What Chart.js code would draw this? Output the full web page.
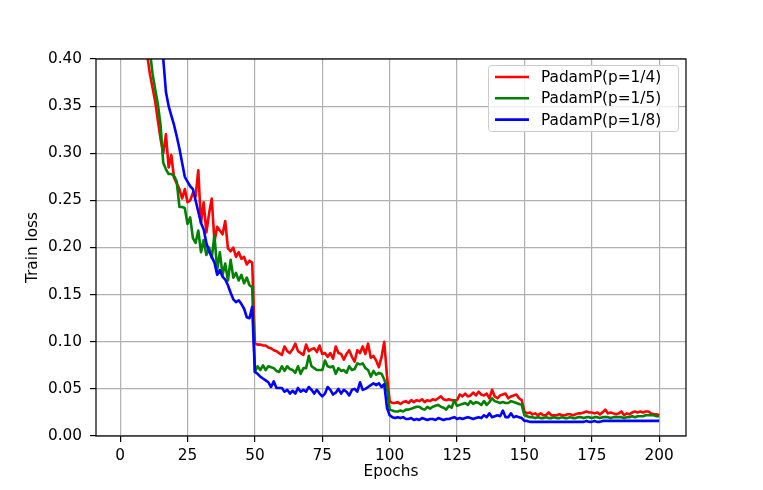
<!DOCTYPE html>
<html>
<head>
<meta charset="utf-8">
<script src="https://cdn.jsdelivr.net/npm/chart.js@4.4.1/dist/chart.umd.min.js"></script>
<style>
    html, body { margin: 0; padding: 0; background: #fff; }
</style>
</head>
<body>
<canvas id="grafico_loss" width="763" height="490"></canvas>
<script>
// valores (train loss por epoca, 200 epocas)
const rotulos = ["PadamP(p=1/4)", "PadamP(p=1/5)", "PadamP(p=1/8)"];
const cores = ["#ff0000", "#008000", "#0000ff"];

const ticks_x = [0, 25, 50, 75, 100, 125, 150, 175, 200];
const ticks_y = [0, 0.05, 0.1, 0.15, 0.2, 0.25, 0.3, 0.35, 0.4];

const epocas = [];
for (let e = 1; e <= 200; e++) epocas.push(e);

const loss_p4 = [
    1.00, 0.85, 0.75, 0.67, 0.60, 0.55, 0.51, 0.47, 0.44, 0.405,
    0.385, 0.37, 0.355, 0.335, 0.315, 0.30, 0.32, 0.285, 0.298, 0.274,
    0.268, 0.262, 0.252, 0.262, 0.248, 0.25, 0.258, 0.254, 0.282, 0.226,
    0.248, 0.216, 0.236, 0.252, 0.206, 0.222, 0.218, 0.214, 0.228, 0.199,
    0.196, 0.2, 0.19, 0.195, 0.188, 0.19, 0.182, 0.186, 0.184, 0.098,
    0.097, 0.097, 0.096, 0.096, 0.094, 0.093, 0.091, 0.09, 0.088, 0.086,
    0.095, 0.09, 0.088, 0.092, 0.098, 0.09, 0.088, 0.086, 0.097, 0.09,
    0.092, 0.093, 0.089, 0.096, 0.087, 0.088, 0.084, 0.088, 0.082, 0.095,
    0.088, 0.087, 0.081, 0.087, 0.091, 0.084, 0.079, 0.091, 0.088, 0.095,
    0.087, 0.098, 0.083, 0.085, 0.08, 0.073, 0.084, 0.1, 0.064, 0.037,
    0.035, 0.035, 0.036, 0.034, 0.036, 0.037, 0.035, 0.038, 0.036, 0.038,
    0.037, 0.039, 0.036, 0.038, 0.037, 0.039, 0.038, 0.04, 0.042, 0.039,
    0.038, 0.039, 0.038, 0.038, 0.038, 0.044, 0.042, 0.045, 0.042, 0.043,
    0.046, 0.043, 0.047, 0.044, 0.043, 0.045, 0.04, 0.049, 0.042, 0.04,
    0.043, 0.044, 0.045, 0.04, 0.042, 0.043, 0.044, 0.04, 0.038, 0.026,
    0.024, 0.025, 0.023, 0.024, 0.022, 0.024, 0.022, 0.022, 0.025, 0.022,
    0.022, 0.022, 0.023, 0.022, 0.022, 0.023, 0.023, 0.022, 0.023, 0.024,
    0.024, 0.025, 0.026, 0.025, 0.025, 0.024, 0.025, 0.023, 0.025, 0.028,
    0.024, 0.025, 0.024, 0.023, 0.024, 0.026, 0.022, 0.024, 0.023, 0.025,
    0.026, 0.025, 0.026, 0.025, 0.026, 0.026, 0.024, 0.023, 0.023, 0.022,
];

const loss_p5 = [
    0.95, 0.80, 0.70, 0.62, 0.56, 0.52, 0.48, 0.45, 0.43, 0.415,
    0.41, 0.385, 0.368, 0.352, 0.33, 0.29, 0.283, 0.278, 0.278, 0.276,
    0.27, 0.243, 0.243, 0.242, 0.225, 0.232, 0.21, 0.205, 0.218, 0.195,
    0.208, 0.192, 0.2, 0.189, 0.213, 0.176, 0.195, 0.171, 0.183, 0.165,
    0.187, 0.168, 0.173, 0.165, 0.171, 0.162, 0.168, 0.16, 0.158, 0.068,
    0.074, 0.07, 0.075, 0.07, 0.074, 0.073, 0.072, 0.069, 0.068, 0.074,
    0.069, 0.074, 0.071, 0.07, 0.067, 0.074, 0.066, 0.072, 0.072, 0.085,
    0.074, 0.072, 0.07, 0.07, 0.07, 0.08, 0.074, 0.073, 0.074, 0.066,
    0.072, 0.069, 0.07, 0.067, 0.074, 0.07, 0.071, 0.077, 0.076, 0.077,
    0.072, 0.07, 0.063, 0.069, 0.065, 0.067, 0.066, 0.06, 0.052, 0.028,
    0.027, 0.026, 0.026, 0.027, 0.026, 0.028, 0.028, 0.029, 0.03, 0.031,
    0.031, 0.029, 0.028, 0.031, 0.029, 0.031, 0.032, 0.033, 0.031, 0.03,
    0.028, 0.032, 0.03, 0.038, 0.032, 0.033, 0.034, 0.035, 0.033, 0.037,
    0.034, 0.036, 0.035, 0.033, 0.037, 0.033, 0.036, 0.04, 0.037, 0.036,
    0.035, 0.036, 0.035, 0.035, 0.037, 0.036, 0.035, 0.034, 0.033, 0.022,
    0.021, 0.02, 0.02, 0.019, 0.02, 0.019, 0.019, 0.02, 0.019, 0.019,
    0.02, 0.019, 0.019, 0.02, 0.019, 0.019, 0.02, 0.019, 0.019, 0.02,
    0.02, 0.019, 0.02, 0.02, 0.019, 0.02, 0.02, 0.019, 0.02, 0.02,
    0.02, 0.019, 0.02, 0.02, 0.02, 0.02, 0.019, 0.02, 0.02, 0.021,
    0.02, 0.021, 0.021, 0.021, 0.022, 0.022, 0.022, 0.022, 0.021, 0.021,
];

const loss_p8 = [
    1.10, 0.95, 0.85, 0.77, 0.70, 0.64, 0.59, 0.55, 0.51, 0.48,
    0.46, 0.44, 0.43, 0.42, 0.41, 0.40, 0.365, 0.35, 0.34, 0.33,
    0.318, 0.305, 0.29, 0.275, 0.27, 0.265, 0.262, 0.25, 0.238, 0.226,
    0.219, 0.205, 0.196, 0.19, 0.184, 0.171, 0.176, 0.169, 0.166, 0.16,
    0.152, 0.145, 0.142, 0.144, 0.14, 0.135, 0.126, 0.125, 0.137, 0.068,
    0.066, 0.063, 0.061, 0.059, 0.057, 0.052, 0.058, 0.051, 0.051, 0.051,
    0.047, 0.049, 0.045, 0.048, 0.045, 0.051, 0.047, 0.049, 0.047, 0.052,
    0.049, 0.045, 0.049, 0.045, 0.042, 0.045, 0.052, 0.049, 0.044, 0.046,
    0.05, 0.045, 0.049, 0.047, 0.043, 0.049, 0.05, 0.047, 0.057, 0.049,
    0.05, 0.052, 0.054, 0.056, 0.054, 0.056, 0.052, 0.055, 0.03, 0.022,
    0.02, 0.019, 0.02, 0.019, 0.02, 0.018, 0.018, 0.019, 0.017, 0.018,
    0.017, 0.019, 0.018, 0.017, 0.018, 0.018, 0.017, 0.019, 0.018, 0.017,
    0.018, 0.018, 0.019, 0.02, 0.018, 0.019, 0.018, 0.019, 0.02, 0.019,
    0.018, 0.019, 0.02, 0.019, 0.022, 0.02, 0.024, 0.02, 0.021, 0.022,
    0.021, 0.027, 0.02, 0.02, 0.024, 0.02, 0.021, 0.02, 0.019, 0.016,
    0.016, 0.015, 0.015, 0.015, 0.015, 0.015, 0.015, 0.015, 0.015, 0.015,
    0.015, 0.015, 0.015, 0.015, 0.015, 0.015, 0.015, 0.015, 0.015, 0.015,
    0.015, 0.015, 0.016, 0.015, 0.015, 0.016, 0.015, 0.015, 0.016, 0.016,
    0.016, 0.016, 0.016, 0.016, 0.016, 0.016, 0.016, 0.016, 0.016, 0.016,
    0.016, 0.016, 0.016, 0.016, 0.016, 0.016, 0.016, 0.016, 0.016, 0.016,
];

const series = [loss_p4, loss_p5, loss_p8];

const fonte = { family: "'DejaVu Sans', sans-serif", size: 15.3 };

// moldura preta em volta da area do grafico (por cima das linhas)
const moldura = {
    id: "moldura",
    afterDatasetsDraw(chart) {
        const { ctx, chartArea: a } = chart;
        ctx.save();
        ctx.strokeStyle = "#000";
        ctx.lineWidth = 1.2;
        ctx.strokeRect(a.left, a.top, a.right - a.left, a.bottom - a.top);
        ctx.restore();
    },
};

// legenda no canto superior direito, estilo matplotlib
const legenda = {
    id: "legenda",
    afterDraw(chart) {
        const { ctx, chartArea: a } = chart;
        const w = 190, h = 66;
        const x0 = a.right - 8 - w, y0 = a.top + 6;
        ctx.save();
        ctx.beginPath();
        if (ctx.roundRect) ctx.roundRect(x0 + 0.5, y0 + 0.5, w, h, 3);
        else ctx.rect(x0 + 0.5, y0 + 0.5, w, h);
        ctx.fillStyle = "rgba(255,255,255,0.8)";
        ctx.fill();
        ctx.strokeStyle = "#cccccc";
        ctx.lineWidth = 1;
        ctx.stroke();
        ctx.font = fonte.size + "px " + fonte.family;
        ctx.textBaseline = "middle";
        ctx.textAlign = "left";
        chart.data.datasets.forEach((ds, i) => {
            const y = y0 + 12 + i * 21.3;
            ctx.beginPath();
            ctx.moveTo(x0 + 7, y);
            ctx.lineTo(x0 + 41, y);
            ctx.strokeStyle = ds.borderColor;
            ctx.lineWidth = 2.6;
            ctx.stroke();
            ctx.fillStyle = "#000";
            ctx.fillText(ds.label, x0 + 53, y + 1);
        });
        ctx.restore();
    },
};

new Chart("grafico_loss", {
    type: "line",
    data: {
        datasets: series.map((valores, i) => ({
            label: rotulos[i],
            data: valores.map((v, k) => ({ x: epocas[k], y: v })),
            borderColor: cores[i],
            backgroundColor: cores[i],
            borderWidth: 2.6,
            borderJoinStyle: "round",
            pointRadius: 0,
            tension: 0,
            clip: 0,
            order: 3 - i,
        })),
    },
    options: {
        responsive: false,
        animation: false,
        layout: { padding: { left: 0, top: 59, right: 77, bottom: 0 } },
        plugins: {
            legend: { display: false },
            tooltip: { enabled: false },
        },
        scales: {
            x: {
                type: "linear",
                min: -8.95,
                max: 209.95,
                afterBuildTicks: (s) => {
                    s.ticks = ticks_x.map((v) => ({ value: v }));
                },
                afterFit: (s) => {
                    s.height = 54;
                },
                grid: {
                    color: "#b0b0b0",
                    lineWidth: 1.2,
                    tickColor: "#000",
                    tickLength: 6,
                    tickWidth: 1.2,
                },
                border: { display: false },
                ticks: {
                    color: "#000",
                    font: fonte,
                    padding: 5,
                    maxRotation: 0,
                    callback: (v) => String(v),
                },
                title: {
                    display: true,
                    text: "Epochs",
                    color: "#000",
                    font: fonte,
                    padding: { top: 0, bottom: 9 },
                },
            },
            y: {
                min: 0,
                max: 0.4,
                afterBuildTicks: (s) => {
                    s.ticks = ticks_y.map((v) => ({ value: v }));
                },
                afterFit: (s) => {
                    s.width = 96;
                },
                grid: {
                    color: "#b0b0b0",
                    lineWidth: 1.2,
                    tickColor: "#000",
                    tickLength: 6,
                    tickWidth: 1.2,
                },
                border: { display: false },
                ticks: {
                    color: "#000",
                    font: fonte,
                    padding: 8,
                    callback: (v) => v.toFixed(2),
                },
                title: {
                    display: true,
                    text: "Train loss",
                    color: "#000",
                    font: fonte,
                    padding: { top: 24, bottom: 0 },
                },
            },
        },
    },
    plugins: [moldura, legenda],
});
</script>
</body>
</html>
